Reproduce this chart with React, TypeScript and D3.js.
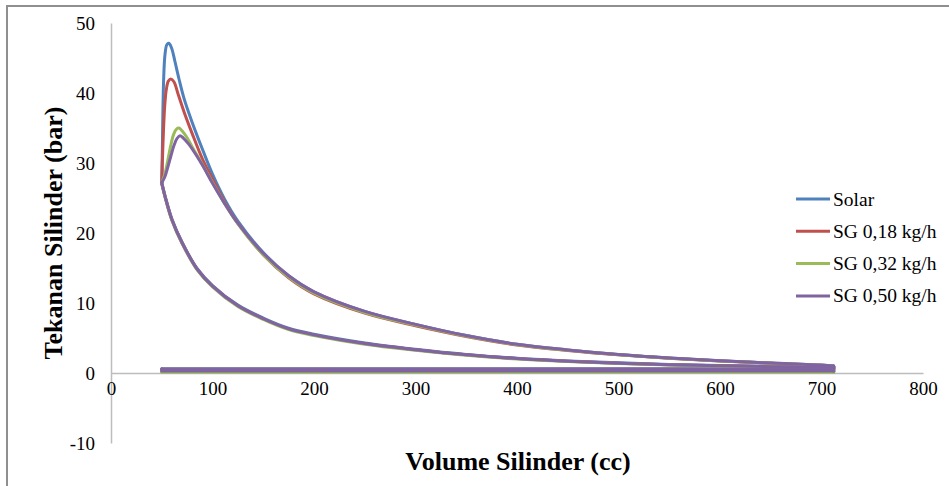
import React, { useEffect, useRef } from "react";
import * as d3 from "d3";

const seriesNames = ["Solar", "SG 0,18 kg/h", "SG 0,32 kg/h", "SG 0,50 kg/h"];
const seriesColors = ["#4F81BD", "#C0504D", "#9BBB59", "#8064A2"];

const xTicks = [0, 100, 200, 300, 400, 500, 600, 700, 800];
const yTicks = [-10, 0, 10, 20, 30, 40, 50];

// compression stroke (BDC -> TDC), volume in cc
const compressionVolume = [712, 700, 650, 600, 550, 500, 450, 400, 350, 300, 250, 200, 175, 150, 125, 100, 85, 70, 60, 54, 50];
const solarCompression = [0.9, 0.85, 0.95, 1.07, 1.23, 1.45, 1.73, 2.12, 2.66, 3.4, 4.3, 5.55, 6.4, 7.85, 9.7, 12.5, 14.9, 18.7, 22.0, 24.9, 27.2];
const sg018Compression = [0.85, 0.8, 0.9, 1.02, 1.18, 1.4, 1.68, 2.06, 2.6, 3.33, 4.2, 5.45, 6.3, 7.75, 9.6, 12.4, 14.8, 18.6, 21.9, 24.8, 27.0];
const sg032Compression = [0.8, 0.76, 0.86, 0.98, 1.13, 1.35, 1.63, 2.0, 2.54, 3.26, 4.12, 5.36, 6.2, 7.65, 9.5, 12.3, 14.7, 18.5, 21.8, 24.7, 27.2];
const sg050Compression = [0.85, 0.8, 0.9, 1.02, 1.18, 1.4, 1.68, 2.06, 2.6, 3.33, 4.2, 5.45, 6.3, 7.75, 9.6, 12.4, 14.8, 18.6, 21.9, 24.8, 27.2];

// combustion + expansion (TDC -> BDC), [volume cc, pressure bar]
const solarExpansion: [number, number][] = [
  [50, 27.2], [50.6, 32], [51.2, 38], [52, 42.5], [53.2, 45.5], [55, 46.9], [57, 47.1], [59.5, 46.5],
  [63, 44.5], [67, 42], [72, 39.2], [80, 35.8], [90, 32], [100, 28.4], [112, 24.8], [125, 21.7],
  [150, 17.2], [175, 13.9], [200, 11.6], [250, 8.8], [300, 6.95], [350, 5.35], [400, 4.1], [450, 3.3],
  [500, 2.65], [550, 2.15], [600, 1.75], [650, 1.42], [700, 1.12], [712, 1.0],
];
const sg018Expansion: [number, number][] = [
  [50, 27], [50.8, 31], [51.8, 35], [53, 38.3], [54.5, 40.5], [56.5, 41.7], [59, 42], [62, 41.6],
  [66, 39.9], [72, 37.3], [80, 34.2], [90, 30.6], [100, 27.7], [112, 24.4], [125, 21.4], [150, 16.9],
  [175, 13.6], [200, 11.3], [250, 8.55], [300, 6.75], [350, 5.22], [400, 4.0], [450, 3.22], [500, 2.6],
  [550, 2.1], [600, 1.71], [650, 1.4], [700, 1.1], [712, 0.98],
];
const sg032Expansion: [number, number][] = [
  [50, 27.2], [53, 28.4], [56, 30.4], [59, 32.6], [62, 34.2], [65, 34.9], [67, 35], [70, 34.6],
  [75, 33.6], [80, 32.3], [90, 29.8], [100, 27.2], [112, 24.2], [125, 21.3], [150, 16.9], [175, 13.7],
  [200, 11.4], [250, 8.65], [300, 6.85], [350, 5.28], [400, 4.05], [450, 3.25], [500, 2.62], [550, 2.12],
  [600, 1.72], [650, 1.41], [700, 1.1], [712, 0.98],
];
const sg050Expansion: [number, number][] = [
  [50, 27.2], [53, 28], [56, 29.4], [59, 31], [62, 32.5], [65, 33.5], [68, 33.9], [71, 33.6],
  [76, 32.8], [80, 32], [90, 29.7], [100, 27.1], [112, 24.2], [125, 21.4], [150, 17.1], [175, 13.9],
  [200, 11.6], [250, 8.8], [300, 6.95], [350, 5.35], [400, 4.1], [450, 3.3], [500, 2.65], [550, 2.15],
  [600, 1.75], [650, 1.42], [700, 1.13], [712, 1.0],
];

// gas exchange strokes
const exhaustVolume = [712, 50];
const exhaustPressure = [0.6, 0.55, 0.5, 0.55];
const intakeVolume = [50, 712];
const intakePressure = [0.25, 0.2, 0.1, 0.3];

const compressions = [solarCompression, sg018Compression, sg032Compression, sg050Compression];
const expansions = [solarExpansion, sg018Expansion, sg032Expansion, sg050Expansion];

export default function App() {
  const ref = useRef<SVGSVGElement>(null);

  useEffect(() => {
    const svg = d3.select(ref.current);
    svg.selectAll("*").remove();

    const font = "'Liberation Serif', 'Times New Roman', serif";
    const x = d3.scaleLinear().domain([0, 800]).range([111, 923]);
    const y = d3.scaleLinear().domain([-10, 50]).range([443, 23]);

    // chart area border (only top/left visible in the crop)
    svg.append("rect")
      .attr("x", 7).attr("y", 6).attr("width", 960).attr("height", 500)
      .attr("fill", "none").attr("stroke", "#8f8f8f").attr("stroke-width", 2);

    const yAxis = svg.append("g")
      .attr("transform", "translate(" + x(0) + ",0)")
      .call(d3.axisLeft(y).tickValues(yTicks).tickFormat(d => String(d))
        .tickSize(0).tickSizeOuter(0).tickPadding(16));
    const xAxis = svg.append("g")
      .attr("transform", "translate(0," + y(0) + ")")
      .call(d3.axisBottom(x).tickValues(xTicks).tickFormat(d => String(d))
        .tickSize(0).tickSizeOuter(0).tickPadding(8.5));

    [xAxis, yAxis].forEach(g => {
      g.select(".domain").attr("stroke", "#bdbdbd").attr("stroke-width", 1.5);
      g.selectAll("text")
        .attr("font-family", font)
        .attr("font-size", 19)
        .attr("fill", "#000");
    });
    yAxis.selectAll("text").attr("dy", "0.36em");

    const curve = d3.line<[number, number]>()
      .x(d => x(d[0]))
      .y(d => y(d[1]))
      .curve(d3.curveCatmullRom.alpha(0.5));
    const straight = d3.line<[number, number]>()
      .x(d => x(d[0]))
      .y(d => y(d[1]));

    seriesNames.forEach((name, i) => {
      const compression: [number, number][] = compressionVolume.map((v, k) => [v, compressions[i][k]]);
      const exhaust: [number, number][] = exhaustVolume.map(v => [v, exhaustPressure[i]]);
      const intake: [number, number][] = intakeVolume.map(v => [v, intakePressure[i]]);
      const paths = [
        curve(expansions[i]),
        straight([expansions[i][expansions[i].length - 1], ...exhaust]),
        straight([exhaust[exhaust.length - 1], ...intake]),
        straight([intake[intake.length - 1], compression[0]]),
        curve(compression),
      ];

      const g = svg.append("g").attr("class", "series");
      paths.forEach(d => {
        g.append("path")
          .attr("d", d)
          .attr("fill", "none")
          .attr("stroke", seriesColors[i])
          .attr("stroke-width", 3)
          .attr("stroke-linejoin", "round")
          .attr("stroke-linecap", "round");
      });
    });

    // legend
    const legend = svg.append("g").attr("transform", "translate(796,199)");
    seriesNames.forEach((name, i) => {
      const row = legend.append("g").attr("transform", "translate(0," + i * 32.3 + ")");
      row.append("line")
        .attr("x1", 0).attr("x2", 34).attr("y1", 0).attr("y2", 0)
        .attr("stroke", seriesColors[i]).attr("stroke-width", 3);
      row.append("text")
        .text(name)
        .attr("x", 37).attr("y", 6.5)
        .attr("font-family", font).attr("font-size", 19.5).attr("fill", "#000");
    });

    svg.append("text")
      .text("Volume Silinder (cc)")
      .attr("x", 518).attr("y", 470)
      .attr("text-anchor", "middle")
      .attr("font-family", font).attr("font-size", 26).attr("font-weight", "bold");

    svg.append("text")
      .text("Tekanan Silinder (bar)")
      .attr("transform", "translate(62,233) rotate(-90)")
      .attr("text-anchor", "middle")
      .attr("font-family", font).attr("font-size", 26).attr("font-weight", "bold");
  }, []);

  return (
    <svg ref={ref} width={949} height={486}
      style={{ position: "absolute", left: 0, top: 0, background: "#fff" }} />
  );
}
